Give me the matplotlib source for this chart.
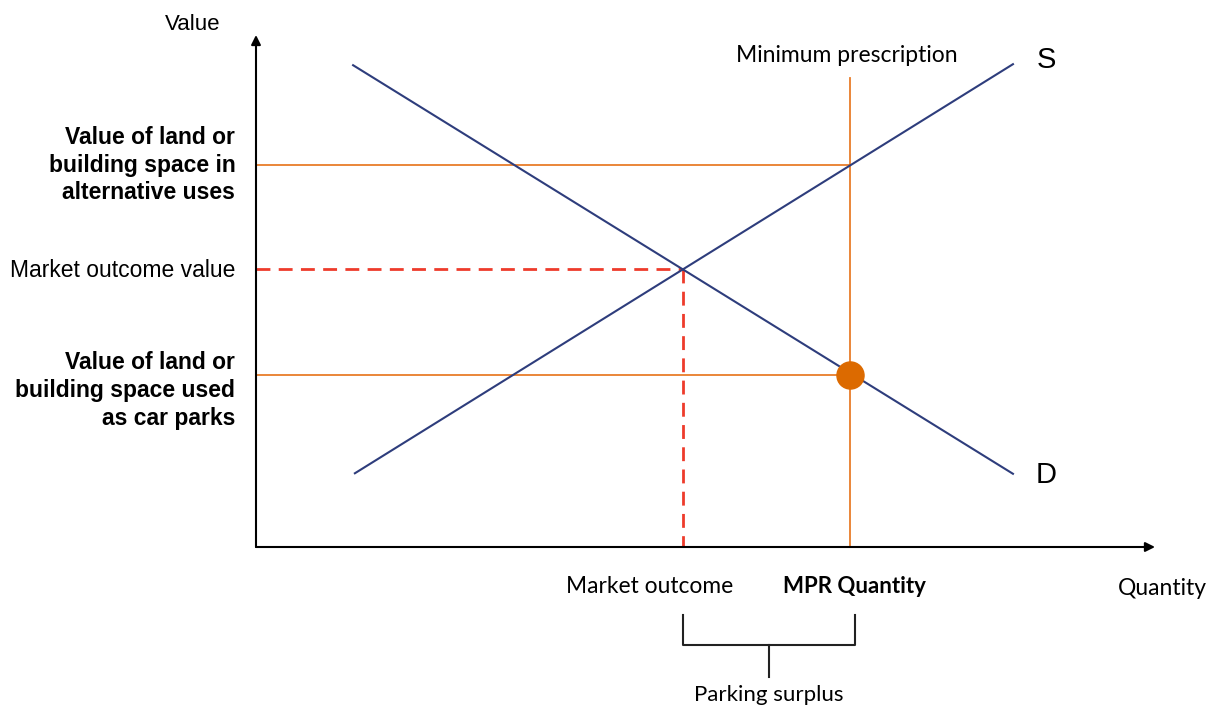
import matplotlib

matplotlib.use("Agg")
import matplotlib.pyplot as plt

# curves (quantity, value) in chart units 0..100
supply_q = [11.0, 84.2]
supply_v = [14.4, 94.3]
demand_q = [10.8, 84.2]
demand_v = [94.1, 14.3]

market_q = 47.5
market_v = 54.3
mpr_q = 66.1
mpr_top_v = 91.6
alt_value = 74.6
carpark_value = 33.6

BLUE = "#2E3D7C"
ORANGE = "#E87D2A"
DOT = "#DC6A00"
RED = "#EE3B2B"
CALIBRI_LIKE = ["Lato", "DejaVu Sans"]
ARIAL_LIKE = ["Liberation Sans", "DejaVu Sans"]

fig = plt.figure(figsize=(12.15, 7.07), dpi=100)
ax = fig.add_axes([256 / 1215, (707 - 547) / 707, (1155 - 256) / 1215, (547 - 35) / 707])
ax.set_xlim(0, 100)
ax.set_ylim(0, 100)
ax.axis("off")

# axes arrows
arrow = dict(arrowstyle="-|>", color="black", lw=1.5, mutation_scale=14, shrinkA=0, shrinkB=0)
ax.annotate("", xy=(100, 0), xytext=(0, 0), arrowprops=arrow, annotation_clip=False)
ax.annotate("", xy=(0, 100), xytext=(0, 0), arrowprops=arrow, annotation_clip=False)

# orange guides
ax.plot([0, mpr_q], [alt_value, alt_value], color=ORANGE, lw=1.3)
ax.plot([0, mpr_q], [carpark_value, carpark_value], color=ORANGE, lw=1.3)
ax.plot([mpr_q, mpr_q], [0, mpr_top_v], color=ORANGE, lw=1.3)

# market outcome dashes
ax.plot([0, market_q], [market_v, market_v], color=RED, lw=2, dashes=(5, 3))
ax.plot([market_q, market_q], [market_v, 0], color=RED, lw=2, dashes=(5, 3))

# supply and demand
ax.plot(supply_q, supply_v, color=BLUE, lw=1.5)
ax.plot(demand_q, demand_v, color=BLUE, lw=1.5)

ax.scatter([mpr_q], [carpark_value], s=380, color=DOT, zorder=5)

# labels
ax.text(-7.1, 102.1, "Value", ha="center", va="center", fontsize=16, family=ARIAL_LIKE, clip_on=False)
ax.text(65.7, 96.0, "Minimum prescription", ha="center", va="center", fontsize=16.5, family=CALIBRI_LIKE)
ax.text(87.9, 95.1, "S", ha="center", va="center", fontsize=21, family=ARIAL_LIKE)
ax.text(87.9, 14.1, "D", ha="center", va="center", fontsize=21, family=ARIAL_LIKE)

ax.text(-2.3, 74.6, "Value of land or\nbuilding space in\nalternative uses", ha="right", va="center",
        fontsize=16.5, fontweight="bold", family=ARIAL_LIKE, linespacing=1.26, clip_on=False)
ax.text(-2.3, 54.1, "Market outcome value", ha="right", va="center", fontsize=16.5,
        family=ARIAL_LIKE, clip_on=False)
ax.text(-2.3, 30.6, "Value of land or\nbuilding space used\nas car parks", ha="right", va="center",
        fontsize=16.5, fontweight="bold", family=ARIAL_LIKE, linespacing=1.26, clip_on=False)

ax.text(43.8, -7.7, "Market outcome", ha="center", va="center", fontsize=16.4, family=CALIBRI_LIKE, clip_on=False)
ax.text(66.6, -7.7, "MPR Quantity", ha="center", va="center", fontsize=16, fontweight="bold",
        family=CALIBRI_LIKE, clip_on=False)
ax.text(100.8, -8.2, "Quantity", ha="center", va="center", fontsize=16.5, family=CALIBRI_LIKE, clip_on=False)

# bracket for parking surplus
bracket_left = market_q
bracket_right = 66.6
bracket_mid = (bracket_left + bracket_right) / 2
ax.plot([bracket_left, bracket_left, bracket_right, bracket_right], [-13.3, -19.1, -19.1, -13.3],
        color="#222222", lw=1.5, clip_on=False)
ax.plot([bracket_mid, bracket_mid], [-19.1, -25.4], color="#222222", lw=1.5, clip_on=False)
ax.text(bracket_mid, -29.0, "Parking surplus", ha="center", va="center", fontsize=16,
        family=CALIBRI_LIKE, clip_on=False)

fig.savefig("out.png", dpi=100)
